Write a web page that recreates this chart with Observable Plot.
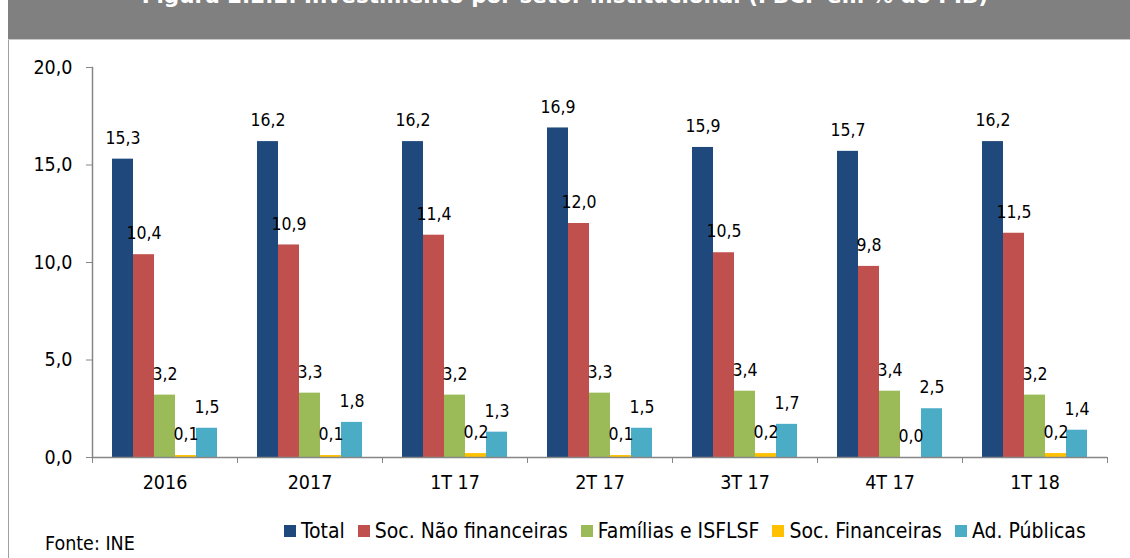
<!DOCTYPE html>
<html>
<head>
<meta charset="utf-8">
<script src="https://cdn.jsdelivr.net/npm/d3@7"></script>
<script src="https://cdn.jsdelivr.net/npm/@observablehq/plot@0.6"></script>
<style>
  html, body { margin: 0; padding: 0; background: #fff; }
  body { width: 1130px; height: 558px; position: relative; overflow: hidden;
         font-family: "DejaVu Sans Condensed", "DejaVu Sans", sans-serif; font-stretch: condensed; color: #000; }
  #header { position: absolute; left: 8px; top: 0; width: 1122px; height: 39px; background: #808080;
            border-bottom: 1px solid #c8c8c8; overflow: hidden; }
  #title { position: absolute; left: -8px; width: 1130px; top: -14.5px; text-align: center; color: #fff;
           font-family: "DejaVu Sans", sans-serif; font-stretch: normal;
           font-weight: bold; font-size: 21.5px; line-height: 20px; white-space: nowrap; }
  #leftline { position: absolute; left: 8px; top: 40px; width: 1px; height: 518px; background: #a0a0a0; z-index: 5; }
  #chart { position: absolute; left: 0; top: 40px; }
  #legend { position: absolute; left: 284px; top: 519px; display: flex; align-items: center; font-size: 21px; white-space: nowrap; }
  #legend .item { display: flex; align-items: center; margin-right: 13px; }
  #legend .sw { width: 12px; height: 12px; margin-right: 5px; }
  #caption { position: absolute; left: 45px; top: 532px; font-size: 19.5px; }
</style>
</head>
<body>
<div id="header"><div id="title"></div></div>
<div id="chart"></div>
<div id="leftline"></div>
<div id="legend"></div>
<div id="caption"></div>
<script>
const titleText = "Figura 2.2.2. Investimento por setor institucional (FBCF em % do PIB)";
const captionText = "Fonte: INE";
const categories = ["2016", "2017", "1T 17", "2T 17", "3T 17", "4T 17", "1T 18"];
const seriesNames = ["Total", "Soc. Não financeiras", "Famílias e ISFLSF", "Soc. Financeiras", "Ad. Públicas"];
const seriesColors = ["#1F497D", "#C0504D", "#9BBB59", "#FFC000", "#4BACC6"];
const total = [15.3, 16.2, 16.2, 16.9, 15.9, 15.7, 16.2];
const socNaoFin = [10.4, 10.9, 11.4, 12.0, 10.5, 9.8, 11.5];
const familias = [3.2, 3.3, 3.2, 3.3, 3.4, 3.4, 3.2];
const socFin = [0.1, 0.1, 0.2, 0.1, 0.2, 0.0, 0.2];
const adPub = [1.5, 1.8, 1.3, 1.5, 1.7, 2.5, 1.4];
const yTicks = [0, 5, 10, 15, 20];

const seriesValues = [total, socNaoFin, familias, socFin, adPub];
const data = [];
categories.forEach((c, i) => {
  seriesNames.forEach((s, j) => data.push({cat: c, series: s, value: seriesValues[j][i]}));
});
const fmt = v => d3.format(".1f")(v).replace(".", ",");

document.getElementById("title").textContent = titleText;
document.getElementById("caption").textContent = captionText;

const W = 1130, ML = 92, MR = 23;
const step = (W - ML - MR) / categories.length;
const gray = "#868686";
const font = '"DejaVu Sans Condensed", "DejaVu Sans", sans-serif';

const chart = Plot.plot({
  width: W, height: 460,
  marginLeft: ML, marginRight: MR, marginTop: 27, marginBottom: 43,
  style: {fontFamily: font, fontSize: "17.5px", color: "#000", background: "transparent", overflow: "visible"},
  fx: {domain: categories, padding: 0, label: null},
  x: {domain: seriesNames, paddingInner: 0, paddingOuter: 0.8, axis: null},
  y: {domain: [0, 20], label: null},
  color: {domain: seriesNames, range: seriesColors},
  marks: [
    Plot.barY(data, {fx: "cat", x: "series", y: "value", fill: "series"}),
    Plot.text(data, {fx: "cat", x: "series", y: "value", text: d => fmt(d.value), dy: -21, fontSize: 17.5, fill: "#000"}),
    Plot.ruleY([0], {stroke: gray, strokeWidth: 1.5}),
    Plot.frame({anchor: "left", facetAnchor: "left", stroke: gray, strokeWidth: 1.5}),
    Plot.axisY({ticks: yTicks, tickFormat: fmt, tickSize: 6, tickPadding: 14, stroke: gray, fontSize: 19.5, label: null}),
    Plot.axisFx({anchor: "bottom", tickSize: 0, tickPadding: 18, fontSize: 19.5, label: null}),
    Plot.axisFx({anchor: "bottom", tickSize: 6, text: null, dx: -step / 2, stroke: gray, label: null}),
    Plot.axisFx({anchor: "bottom", ticks: [categories[categories.length - 1]], tickSize: 6, text: null, dx: step / 2, stroke: gray, label: null})
  ]
});
document.getElementById("chart").appendChild(chart);

const legend = document.getElementById("legend");
seriesNames.forEach((s, j) => {
  const it = document.createElement("div");
  it.className = "item";
  const sw = document.createElement("div");
  sw.className = "sw";
  sw.style.background = seriesColors[j];
  const tx = document.createElement("span");
  tx.textContent = s;
  it.appendChild(sw); it.appendChild(tx);
  legend.appendChild(it);
});
</script>
</body>
</html>
